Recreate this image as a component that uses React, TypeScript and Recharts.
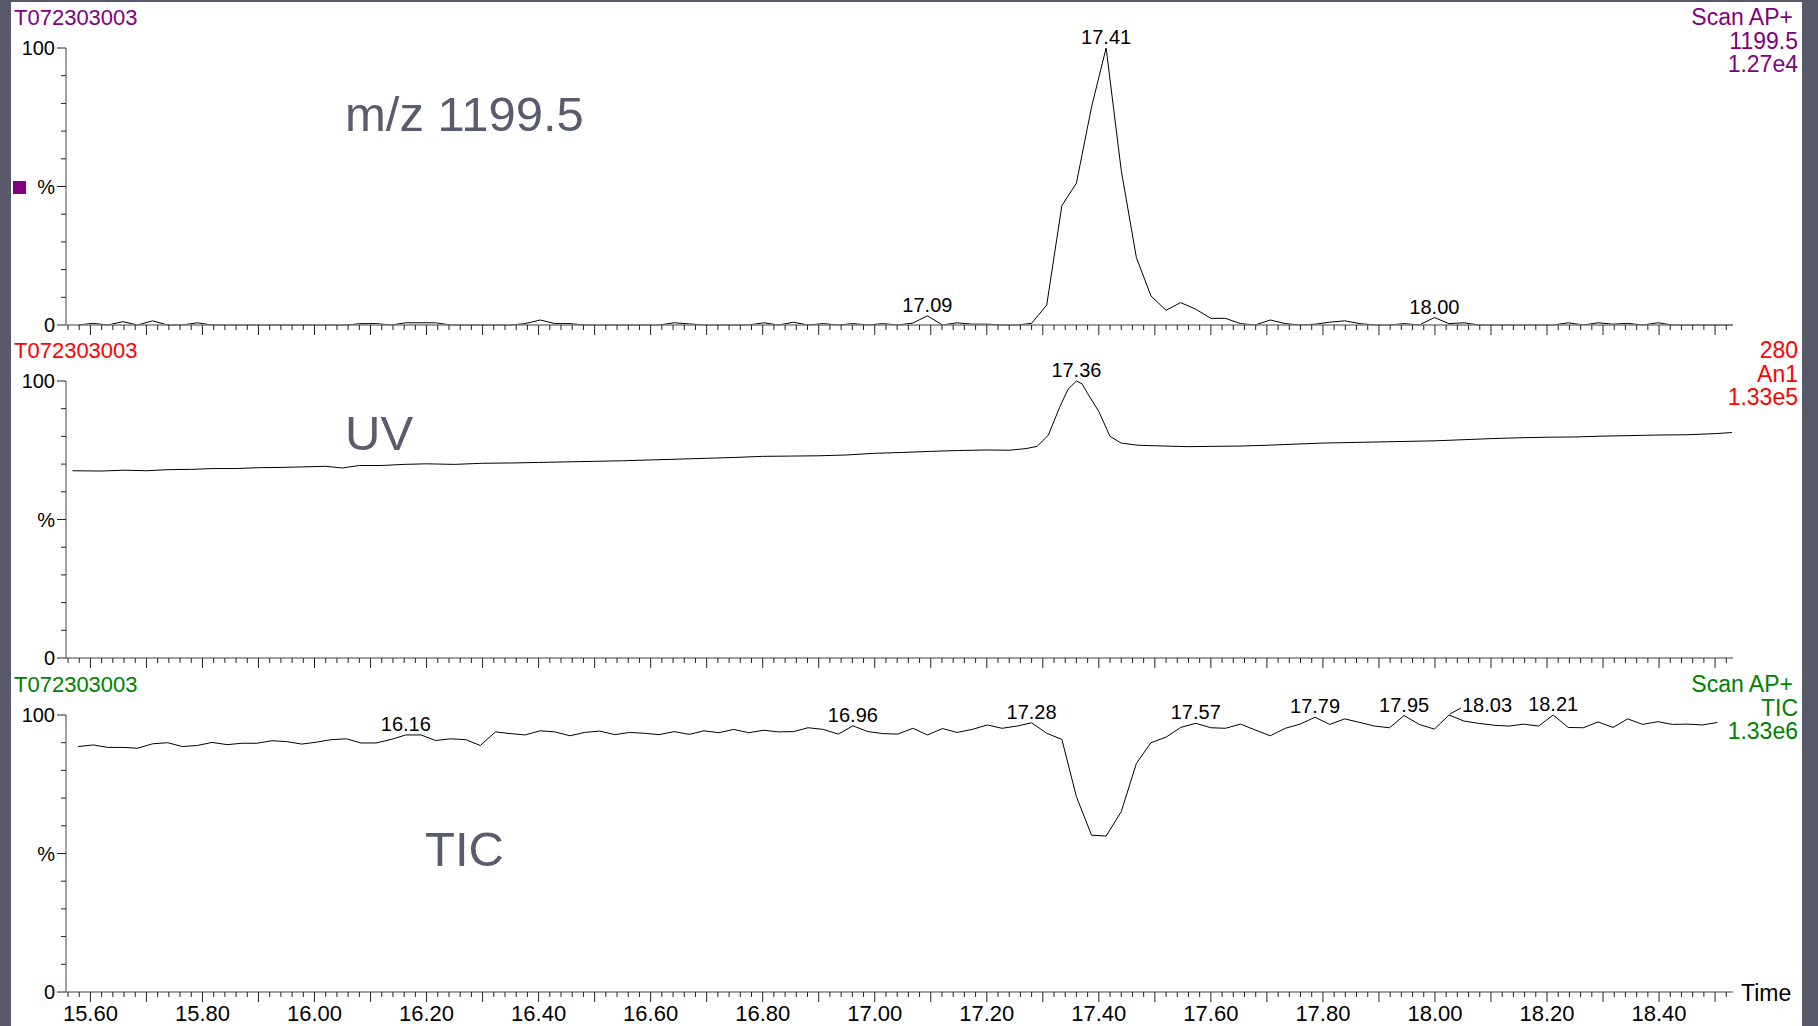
import { LineChart, Line, XAxis, YAxis, LabelList } from "recharts";

// scan times (min) shared by the two MS traces
const SCAN_TIMES = [
  15.578, 15.605, 15.631, 15.658, 15.684, 15.711, 15.738, 15.764, 15.791, 15.817,
  15.844, 15.871, 15.897, 15.924, 15.95, 15.977, 16.004, 16.03, 16.057, 16.083,
  16.11, 16.137, 16.163, 16.19, 16.216, 16.243, 16.27, 16.296, 16.323, 16.349,
  16.376, 16.403, 16.429, 16.456, 16.482, 16.509, 16.536, 16.562, 16.589, 16.615,
  16.642, 16.669, 16.695, 16.722, 16.748, 16.775, 16.802, 16.828, 16.855, 16.881,
  16.908, 16.935, 16.961, 16.988, 17.014, 17.041, 17.068, 17.094, 17.121, 17.147,
  17.174, 17.201, 17.227, 17.254, 17.28, 17.307, 17.334, 17.36, 17.387, 17.413,
  17.44, 17.467, 17.493, 17.52, 17.546, 17.573, 17.6, 17.626, 17.653, 17.679,
  17.706, 17.733, 17.759, 17.786, 17.812, 17.839, 17.866, 17.892, 17.919, 17.945,
  17.972, 17.999, 18.025, 18.052, 18.078, 18.105, 18.132, 18.158, 18.185, 18.211,
  18.238, 18.265, 18.291, 18.318, 18.344, 18.371, 18.398, 18.424, 18.451, 18.477,
  18.504, 18.531,
];

// m/z 1199.5 (%)
const MZ_VALUES = [
  0, 0.6, 0, 1.2, 0, 1.5, 0, 0, 0.8, 0,
  0, 0, 0, 0, 0, 0, 0, 0, 0, 0.5,
  0.5, 0, 0.8, 0.8, 0.8, 0, 0, 0, 0, 0,
  0.5, 1.8, 0.5, 0.5, 0, 0, 0, 0, 0, 0,
  0.8, 0.4, 0, 0, 0, 0, 0.8, 0, 1.0, 0,
  0.5, 0, 0.5, 0, 0.5, 0, 0.7, 3.3, 0, 0.8,
  0.3, 0.3, 0, 0, 0.6, 7.2, 43.1, 51.2, 78.7, 100,
  55.8, 24.4, 10.5, 5.3, 8.1, 5.7, 2.4, 2.4, 0.5, 0,
  1.8, 0.5, 0, 0.3, 1.0, 1.5, 0.5, 0, 0, 0.5,
  0, 2.7, 0.5, 0.8, 0, 0, 0, 0, 0, 0,
  0.8, 0, 0.8, 0.3, 0.6, 0, 0.8, 0, 0, 0,
  0, 0,
];

// TIC (%)
const TIC_VALUES = [
  88.6, 89.2, 88.3, 88.3, 88.0, 89.6, 90.0, 88.6, 89.0, 90.1,
  89.3, 89.8, 89.8, 90.7, 90.4, 89.5, 90.2, 91.1, 91.4, 89.9,
  89.9, 91.2, 92.8, 92.8, 90.8, 91.4, 91.1, 89.0, 93.9, 93.3,
  92.8, 94.3, 93.9, 92.5, 93.7, 94.2, 92.9, 93.7, 93.4, 92.9,
  94.0, 93.0, 94.3, 93.6, 94.8, 93.6, 94.5, 93.9, 94.0, 95.4,
  94.8, 93.1, 96.1, 94.0, 93.3, 93.1, 95.2, 92.8, 95.1, 93.7,
  94.8, 96.4, 95.2, 96.0, 97.2, 93.4, 91.2, 70.5, 56.6, 56.3,
  65.1, 82.5, 90.0, 92.0, 95.5, 97.0, 95.4, 95.2, 96.7, 94.6,
  92.5, 95.2, 96.7, 99.2, 96.6, 98.6, 97.3, 96.0, 95.4, 99.8,
  96.6, 94.9, 100, 97.8, 97.0, 96.3, 96.0, 96.7, 96.0, 100,
  95.5, 95.4, 97.5, 95.5, 98.6, 96.6, 97.6, 96.6, 96.7, 96.4,
  97.3,
];

// UV 280 trace
const UV_TIMES = [
  15.568, 15.62, 15.66, 15.7, 15.74, 15.78, 15.82, 15.86, 15.9, 15.94,
  15.98, 16.02, 16.05, 16.08, 16.12, 16.16, 16.2, 16.25, 16.3, 16.35,
  16.4, 16.45, 16.5, 16.55, 16.6, 16.65, 16.7, 16.75, 16.8, 16.85,
  16.9, 16.95, 17.0, 17.05, 17.1, 17.15, 17.2, 17.24, 17.27, 17.29,
  17.31, 17.33, 17.345, 17.36, 17.37, 17.38, 17.4, 17.42, 17.44, 17.47,
  17.52, 17.56, 17.6, 17.65, 17.7, 17.75, 17.8, 17.85, 17.9, 17.95,
  18.0, 18.05, 18.1, 18.15, 18.2, 18.25, 18.3, 18.35, 18.4, 18.45,
  18.5, 18.53,
];
const UV_VALUES = [
  67.6, 67.5, 67.8, 67.6, 68.0, 68.1, 68.4, 68.4, 68.7, 68.8,
  69.0, 69.2, 68.6, 69.5, 69.5, 69.9, 70.1, 69.9, 70.3, 70.4,
  70.6, 70.8, 71.0, 71.2, 71.5, 71.8, 72.1, 72.4, 72.8, 72.9,
  73.0, 73.3, 73.9, 74.2, 74.6, 74.9, 75.1, 75.0, 75.6, 76.4,
  80.5, 90.5, 97.0, 100, 99.0, 95.5, 89.0, 80.0, 77.6, 76.8,
  76.5, 76.3, 76.4, 76.5, 76.8, 77.2, 77.6, 77.8, 78.0, 78.2,
  78.4, 78.8, 79.2, 79.5, 79.7, 79.8, 80.1, 80.3, 80.5, 80.6,
  81.0, 81.4,
];

const MZ_PEAKS = [17.09, 17.41, 18.0];
const UV_PEAKS = [17.36];
const TIC_PEAKS = [16.16, 16.96, 17.28, 17.57, 17.79, 17.95, 18.03, 18.21];
const TIC_SHIFTED = [18.03];

const X_LABELS = [15.6, 15.8, 16.0, 16.2, 16.4, 16.6, 16.8, 17.0, 17.2, 17.4, 17.6, 17.8, 18.0, 18.2, 18.4];
const Y_TICKS = [0, 10, 20, 30, 40, 50, 60, 70, 80, 90, 100];
const Y_LABEL_AT = [0, 50, 100];
const Y_LABEL_TEXT = ["0", "%", "100"];

const X_DOMAIN = [15.5564, 18.532];
// minor ticks every 0.02 min
const X_TICKS = Array.from({ length: 149 }, (_, i) => Math.round((15.56 + i * 0.02) * 100) / 100);

const FONT = "'Liberation Sans', Arial, sans-serif";
const AXIS_LINE = { stroke: "#808080", strokeWidth: 1.5 };

const mzData = SCAN_TIMES.map((t, i) => ({ t, v: MZ_VALUES[i] }));
const ticData = TIC_VALUES.map((v, i) => ({ t: SCAN_TIMES[i], v }));
const uvData = UV_TIMES.map((t, i) => ({ t, v: UV_VALUES[i] }));

function TimeTick({ x, y, payload, showLabel }: any) {
  const h = Math.round(payload.value * 100);
  const major = h % 10 === 0;
  const label = X_LABELS.find((l) => Math.abs(l - payload.value) < 0.001);
  return (
    <g>
      <line x1={x} y1={y} x2={x} y2={y + (major ? 10 : 5)} stroke="#222" strokeWidth={1} />
      {showLabel && label !== undefined && (
        <text x={x} y={y + 29} textAnchor="middle" fontSize={22} fontFamily={FONT} fill="#000">
          {label.toFixed(2)}
        </text>
      )}
    </g>
  );
}

function PctTick({ x, y, payload }: any) {
  const k = Y_LABEL_AT.indexOf(payload.value);
  return (
    <g>
      <line x1={x - (k >= 0 ? 9 : 5)} y1={y} x2={x} y2={y} stroke="#222" strokeWidth={1} />
      {k >= 0 && (
        <text x={x - 11} y={y} dy="0.36em" textAnchor="end" fontSize={20} fontFamily={FONT} fill="#000">
          {Y_LABEL_TEXT[k]}
        </text>
      )}
    </g>
  );
}

function peakLabel(peaks: number[], shifted: number[], tol: number) {
  return (props: any) => {
    const { x, y, value } = props;
    const peak = peaks.find((p) => Math.abs(p - value) < tol);
    if (peak === undefined) return null;
    const text = peak.toFixed(2);
    if (shifted.includes(peak)) {
      return (
        <g>
          <line x1={x + 1} y1={y - 1} x2={x + 12} y2={y - 7} stroke="#000" strokeWidth={1} />
          <text x={x + 13} y={y - 3} fontSize={20} fontFamily={FONT} fill="#000">
            {text}
          </text>
        </g>
      );
    }
    return (
      <text x={x} y={y - 4} textAnchor="middle" fontSize={20} fontFamily={FONT} fill="#000">
        {text}
      </text>
    );
  };
}

function Trace({ data, top, height, peaks, shifted, tol, showLabels }: any) {
  return (
    <div style={{ position: "absolute", left: 0, top }}>
      <LineChart width={1818} height={height} data={data} margin={{ top: 48, right: 85, bottom: 0, left: 0 }}>
        <XAxis
          type="number"
          dataKey="t"
          domain={X_DOMAIN}
          ticks={X_TICKS}
          interval={0}
          tickSize={0}
          tickMargin={0}
          tickLine={false}
          axisLine={AXIS_LINE}
          height={height - 48 - 277}
          tick={(p: any) => <TimeTick {...p} showLabel={showLabels} />}
        />
        <YAxis
          type="number"
          domain={[0, 100]}
          ticks={Y_TICKS}
          interval={0}
          width={66}
          tickSize={0}
          tickMargin={0}
          tickLine={false}
          axisLine={AXIS_LINE}
          tick={(p: any) => <PctTick {...p} />}
        />
        <Line dataKey="v" stroke="#000" strokeWidth={1} dot={false} isAnimationActive={false}>
          <LabelList dataKey="t" content={peakLabel(peaks, shifted, tol)} />
        </Line>
      </LineChart>
    </div>
  );
}

export default function App() {
  const purple = "#800080";
  const red = "#ff0000";
  const green = "#008000";
  const note = "#595b6e";
  return (
    <div style={{ position: "absolute", left: 0, top: 0, width: 1818, height: 1026, background: "#585a6b", overflow: "hidden" }}>
      <div style={{ position: "absolute", left: 11, top: 2, width: 1791, height: 1024, background: "#fff" }} />
      <Trace data={mzData} top={0} height={365} peaks={MZ_PEAKS} shifted={[]} tol={0.013} showLabels={false} />
      <Trace data={uvData} top={333} height={365} peaks={UV_PEAKS} shifted={[]} tol={0.004} showLabels={false} />
      <Trace data={ticData} top={667} height={359} peaks={TIC_PEAKS} shifted={TIC_SHIFTED} tol={0.013} showLabels={true} />
      <svg width={1818} height={1026} style={{ position: "absolute", left: 0, top: 0, pointerEvents: "none" }} fontFamily={FONT}>
        <text x={14} y={25} fontSize={22} fill={purple}>T072303003</text>
        <text x={1793} y={25} fontSize={23} fill={purple} textAnchor="end">Scan AP+</text>
        <text x={1798} y={48.5} fontSize={23} fill={purple} textAnchor="end">1199.5</text>
        <text x={1798} y={72} fontSize={23} fill={purple} textAnchor="end">1.27e4</text>
        <rect x={13} y={181} width={13} height={13} fill={purple} />

        <text x={14} y={358} fontSize={22} fill={red}>T072303003</text>
        <text x={1798} y={358} fontSize={23} fill={red} textAnchor="end">280</text>
        <text x={1798} y={381.5} fontSize={23} fill={red} textAnchor="end">An1</text>
        <text x={1798} y={405} fontSize={23} fill={red} textAnchor="end">1.33e5</text>

        <text x={14} y={692} fontSize={22} fill={green}>T072303003</text>
        <text x={1793} y={692} fontSize={23} fill={green} textAnchor="end">Scan AP+</text>
        <text x={1798} y={715.5} fontSize={23} fill={green} textAnchor="end">TIC</text>
        <text x={1798} y={739} fontSize={23} fill={green} textAnchor="end">1.33e6</text>

        <text x={345} y={131} fontSize={49} fill={note}>m/z 1199.5</text>
        <text x={345} y={450} fontSize={49} fill={note}>UV</text>
        <text x={425} y={866} fontSize={49} fill={note}>TIC</text>

        <text x={1741} y={1001} fontSize={23} fill="#000">Time</text>
      </svg>
    </div>
  );
}
